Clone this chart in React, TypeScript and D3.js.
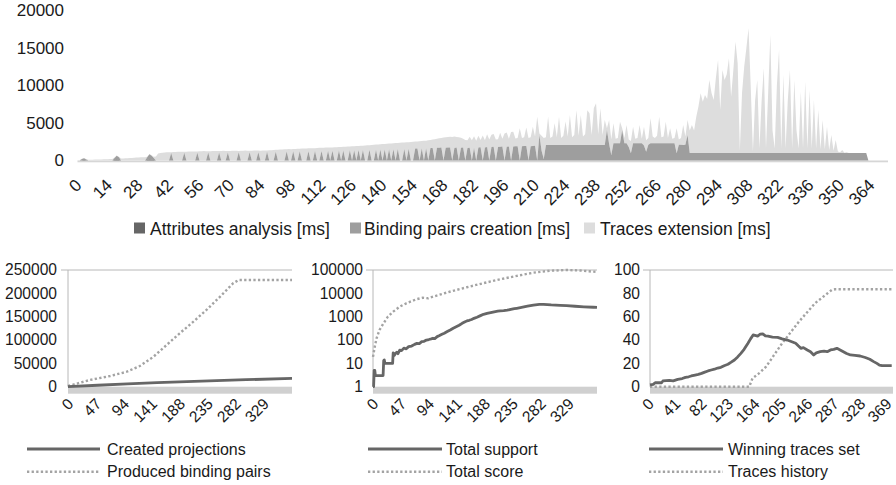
import React from 'react';
import * as d3 from 'd3';

const FONT = "'Liberation Sans', Arial, sans-serif";
const TEXT = '#1a1a1a';

// ---------- Top chart data (stacked areas, one value per iteration 0..372) ----------
const topSeriesNames = ['Attributes analysis [ms]', 'Binding pairs creation [ms]', 'Traces extension [ms]'];

const attributesAnalysis = [
  0,0,40,60,30,0,0,0,0,0,
  0,0,0,0,0,0,0,60,120,80,
  0,0,0,0,0,0,0,0,0,0,
  0,0,80,150,110,60,0,0,0,0,
  0,0,0,0,0,0,0,0,0,0, 0,0,0,0,0,0,0,0,0,0, 0,0,0,0,0,0,0,0,0,0, 0,0,0,0,0,0,0,0,0,0,
  0,0,0,0,0,0,0,0,0,0, 0,0,0,0,0,0,0,0,0,0, 0,0,0,0,0,0,0,0,0,0, 0,0,0,0,0,0,0,0,0,0,
  0,0,0,0,0,0,0,0,0,0, 0,0,0,0,0,0,0,0,0,0, 0,0,0,0,0,0,0,0,0,0, 0,0,0,0,0,0,0,0,0,0,
  0,0,0,0,0,0,0,0,0,0, 0,0,0,0,0,0,0,0,0,0, 0,0,0,0,0,0,0,0,0,0, 0,0,0,0,0,0,0,0,0,0,
  0,0,0,0,0,0,0,0,0,0, 0,0,0,0,0,0,0,0,0,0, 0,0,0,0,0,0,0,0,0,0, 0,0,0,0,0,0,0,0,0,0,
  0,0,0,0,0,0,0,0,0,0, 0,0,0,0,0,0,0,0,0,0, 0,0,0,0,0,0,0,0,0,0, 0,0,0,0,0,0,0,0,0,0,
  0,0,0,0,0,0,0,0,0,0, 0,0,0,0,0,0,0,0,0,0, 0,0,0,0,0,0,0,0,0,0, 0,0,0,0,0,0,0,0,0,0,
  0,0,0,0,0,0,0,0,0,0, 0,0,0,0,0,0,0,0,0,0, 0,0,0,0,0,0,0,0,0,0, 0,0,0,
];

const bindingPairsCreation = [
  0,0,160,240,120,0,0,0,0,0,
  0,0,0,0,0,0,0,290,520,370,
  0,0,0,0,0,0,0,0,0,0,
  0,0,370,680,540,290,0,0,0,0,
  0,0,0,1000,0,0,0,0,0,1050,
  0,0,0,0,0,1050,0,0,0,0,
  1080,0,0,0,0,1080,0,0,0,1080,
  0,0,0,0,1100,0,0,0,0,1100,
  0,0,0,1100,0,0,0,1170,0,0,
  0,1180,0,0,0,0,1200,0,0,1220,
  0,0,1230,0,0,0,1250,0,0,1260,
  0,0,1280,0,0,1300,0,1310,0,0,
  1330,0,1340,0,0,1360,0,1380,0,1400,
  0,1410,0,0,1430,0,0,1450,0,1460,
  0,1480,0,1490,0,1510,0,1520,0,0,
  1550,0,1560,0,0,1590,1610,0,1620,0,
  1640,0,1660,1680,0,1690,1700,1720,0,1700,
  1750,1730,0,1680,1720,0,1700,1720,0,1680,
  1710,0,1700,0,1720,1760,0,1750,1790,0,
  1800,1820,0,1800,1840,1860,0,1850,1880,0,
  1860,1900,1890,0,1900,1920,1940,0,1910,1950,
  1960,0,3400,1300,200,2070,2060,2070,2080,2070,
  2070,2060,2070,2070,2080,2070,2070,2060,2070,2070,
  2070,2080,2070,2070,2060,2070,2070,2070,2080,2070,
  2070,2070,2070,4070,2200,730,2290,2290,2300,2290,
  4070,2300,2290,1800,960,2290,2290,2300,2290,2290,
  2000,1170,2100,2290,2290,2290,2290,2290,2290,2290,
  2290,2290,2290,2290,2290,960,2100,2100,2080,2100,
  3400,1000,1000,1000,1000,1000,1000,1000,1000,1000,
  1000,1000,1000,1000,1000,1000,1000,1000,1000,1000,
  1000,1000,1000,1000,1000,1000,1000,1000,1000,1000,
  1000,1000,1000,1000,1000,1000,1000,1000,1000,1000,
  1000,1000,1000,1000,1000,1000,1000,1000,1000,1000,
  1000,1000,1000,1000,1000,1000,1000,1000,1000,1000,
  1000,1000,1000,1000,1000,1000,1000,1000,1000,1000,
  1000,1000,1000,1000,1000,1000,1000,1000,1000,1000,
  1000,1000,1000,
];

const tracesExtension = [
  50,60,30,30,40,100,110,115,120,130,
  140,150,155,165,175,185,200,50,30,50,
  260,275,290,310,330,350,370,390,410,420,
  430,440,40,30,40,150,520,950,1000,1040,
  1070,1090,1100,110,1130,1150,1160,1180,1170,110,
  1180,1200,1210,1200,1190,150,1220,1250,1270,1250,
  160,1240,1260,1280,1270,180,1270,1290,1280,190,
  1280,1300,1310,1290,180,1290,1300,1320,1310,200,
  1300,1320,1330,220,1310,1320,1330,160,1360,1380,
  1400,240,1430,1460,1470,1490,300,1520,1510,310,
  1550,1560,330,1590,1600,1600,370,1630,1650,390,
  1660,1690,410,1700,1720,420,1740,440,1770,1780,
  460,1810,480,1840,1860,510,1890,520,1920,530,
  1960,560,2000,2030,620,2080,2100,670,2150,710,
  2200,730,2240,770,2280,780,2330,820,2370,2390,
  850,2440,890,2480,2510,930,930,2570,970,2620,
  1000,2700,1090,1110,2850,1210,1260,1290,3060,1400,
  1400,1450,3150,1510,1410,3100,1350,1180,2750,1020,
  1460,2700,1550,2650,1580,990,3350,950,1710,2800,
  1650,1730,2800,1050,1860,1040,3600,1900,1020,3800,
  1990,1050,1110,4300,1100,1180,2460,3000,1190,2550,
  1240,5840,200,2000,2800,1030,3770,930,1130,2890,
  1030,3770,930,1230,3110,1130,4000,1030,1330,4630,
  1230,4000,1130,1430,4630,4220,1330,4930,5560,1430,
  4890,1330,3330,230,3200,2070,2670,610,700,2890,
  230,700,2440,1000,1640,2210,610,700,2440,610,
  2500,1530,900,3330,910,710,1010,3550,810,910,
  2890,710,2000,610,710,3330,700,900,2650,1100,
  2000,3000,3730,3000,4840,6200,7960,6840,7730,7200,
  9730,8000,7070,10000,12400,5730,11070,9730,10500,12630,
  7500,11000,14840,11960,300,8000,11500,14000,16630,8840,
  200,7000,9730,600,7000,11290,600,8000,15730,3000,
  600,9000,13730,600,10400,600,7000,11070,600,9730,
  3000,600,8170,600,9500,600,8400,600,7070,600,
  5730,500,4400,500,3500,400,2400,300,1730,200,
  100,400,50,100,0,0,0,0,0,0,
  0,0,0,0,0,0,0,0,0,0,
  0,0,0,
];

const topYTicks = [0, 5000, 10000, 15000, 20000];
const topXLabels = [0,14,28,42,56,70,84,98,112,126,140,154,168,182,196,210,224,238,252,266,280,294,308,322,336,350,364];

// ---------- Bottom charts data: [iteration, value] points ----------
const createdProjections: [number, number][] = [
  [0,0],[50,3100],[100,6000],[150,8600],[200,10900],[250,13000],[300,15000],[377,17800],
];
const producedBindingPairs: [number, number][] = [
  [0,1500],[37,14400],[71,22900],[99,32100],[121,44400],[144,64300],[166,89400],[188,114400],
  [211,139300],[233,164400],[256,192900],[278,221600],[287,228500],[377,228500],
];
const totalSupport: [number, number][] = [
  [0,1],[1,1],[2,5],[3,5],[4,3],[17,3],[18,13],[19,14],[20,10],[33,10],[34,28],[36,22],[38,27],
  [40,30],[42,26],[45,37],[48,35],[52,45],[56,42],[60,52],[65,55],[70,65],[74,72],[78,70],
  [82,85],[86,88],[90,100],[94,105],[98,112],[101,119],[104,115],[108,140],[112,155],[116,175],
  [120,195],[125,230],[130,270],[135,320],[140,370],[145,430],[150,520],[155,610],[158,655],
  [162,700],[166,760],[170,850],[175,950],[180,1080],[186,1260],[192,1380],[198,1500],[204,1620],
  [210,1720],[214,1760],[220,1800],[226,1900],[232,2050],[238,2200],[242,2290],[250,2500],
  [260,2800],[270,3100],[280,3350],[287,3400],[300,3200],[315,3050],[326,2960],[340,2800],
  [355,2650],[371,2530],[377,2500],
];
const totalScore: [number, number][] = [
  [0,19],[3,52],[6,119],[11,270],[17,487],[25,1000],[34,1640],[45,2690],[56,3730],[73,5580],
  [84,6500],[93,6140],[101,7200],[129,11700],[158,18200],[186,27400],[214,40000],[242,55800],
  [270,77000],[298,93000],[326,100000],[349,95000],[371,85000],[377,83000],
];
const winningTracesSet: [number, number][] = [
  [0,1.5],[5,2],[8,3.4],[18,3.4],[20,4.9],[30,5.5],[36,5],[43,6.3],[50,7],[55,8],[60,8.5],
  [64,9.2],[70,10],[75,10.5],[80,11.4],[85,12.5],[90,13.5],[95,14.3],[100,15],[105,16],
  [110,16.6],[115,18],[121,19.2],[126,21],[131,22.9],[136,25.5],[141,28.6],[146,32],[152,37.2],
  [156,41],[160,44.3],[163,44],[167,43.4],[171,45],[175,45.2],[179,43.5],[183,43.4],[190,42.5],
  [198,42.3],[205,41],[213,40],[220,38.5],[226,37.2],[230,35],[234,32.9],[238,33.5],[244,31.5],
  [249,30],[254,27.2],[258,29],[264,30],[270,30.5],[275,30],[280,31.5],[285,32],[290,32.9],
  [295,31.5],[300,30],[305,28.5],[311,27.2],[318,26.8],[326,26.3],[334,25],[341,23.5],
  [347,21.5],[352,20],[356,18.5],[360,18],[375,18],
];
const tracesHistory: [number, number][] = [
  [0,0],[154,0],[159,7.2],[169,11.4],[180,17.1],[205,37.2],[231,55.7],[256,71.5],[282,82.9],
  [287,83.5],[375,83.5],
];

const chart1YTicks = [0, 50000, 100000, 150000, 200000, 250000];
const chart2YTicks = [1, 10, 100, 1000, 10000, 100000];
const chart3YTicks = [0, 20, 40, 60, 80, 100];
const chart12XLabels = [0, 47, 94, 141, 188, 235, 282, 329];
const chart3XLabels = [0, 41, 82, 123, 164, 205, 246, 287, 328, 369];

const legend1 = ['Created projections', 'Produced binding pairs'];
const legend2 = ['Total support', 'Total score'];
const legend3 = ['Winning traces set', 'Traces history'];

const topColors = ['#666666', '#9e9e9e', '#dddddd'];
const SOLID = '#666666';
const DOTTED = '#a3a3a3';

function TopChart() {
  const N = tracesExtension.length;
  const x = d3.scaleLinear().domain([0, N - 1]).range([77.5, 888]);
  const y = d3.scaleLinear().domain([0, 20000]).range([160.5, 10.5]);
  const rows = tracesExtension.map((t, i) => ({
    a: attributesAnalysis[i] || 0,
    b: bindingPairsCreation[i] || 0,
    t,
  }));
  const stack = d3.stack<any>().keys(['a', 'b', 't'])(rows);
  const area = d3.area<any>()
    .x((_d, i) => x(i))
    .y0((d) => y(d[0]))
    .y1((d) => y(d[1]));
  const legendX = [[134, 150], [350, 364], [584, 600]];
  return (
    <g>
      <rect x={77.5} y={160.5} width={888 - 77.5} height={1.8} fill="#d6d6d6" />
      {stack.slice().reverse().map((s, k) => {
        const idx = 2 - k;
        return <path key={idx} d={area(s) || ''} fill={topColors[idx]} />;
      })}
      {topYTicks.map((v) => (
        <text key={v} x={64} y={y(v)} dy="0.35em" textAnchor="end" fontSize={17} fill={TEXT} fontFamily={FONT}>
          {v}
        </text>
      ))}
      {topXLabels.map((v) => (
        <text
          key={v}
          transform={`translate(${x(v) + 1},${182}) rotate(-45)`}
          dy="0.35em"
          textAnchor="end"
          fontSize={17}
          fill={TEXT}
          fontFamily={FONT}
        >
          {v}
        </text>
      ))}
      {topSeriesNames.map((name, i) => (
        <g key={name}>
          <rect x={legendX[i][0]} y={222.5} width={11} height={11} fill={topColors[i]} />
          <text x={legendX[i][1]} y={228.5} dy="0.35em" fontSize={17.5} fill={TEXT} fontFamily={FONT}>
            {name}
          </text>
        </g>
      ))}
    </g>
  );
}

type LineChartProps = {
  left: number;
  right: number;
  labelRight: number;
  xMax: number;
  log?: boolean;
  yTicks: number[];
  xLabels: number[];
  solid: [number, number][];
  dotted: [number, number][];
  legend: string[];
  legendLineX: [number, number];
  legendTextX: number;
  labelDx: number;
};

function LineChart(p: LineChartProps) {
  const top = 270;
  const bottom = 386.7;
  const x = d3.scaleLinear().domain([0, p.xMax]).range([p.left, p.right]);
  const yMin = p.yTicks[0];
  const yMax = p.yTicks[p.yTicks.length - 1];
  const y = p.log
    ? d3.scaleLog().domain([yMin, yMax]).range([bottom, top])
    : d3.scaleLinear().domain([yMin, yMax]).range([bottom, top]);
  const line = d3.line<[number, number]>()
    .x((d) => x(d[0]))
    .y((d) => y(d[1]));
  return (
    <g>
      <rect x={p.left} y={bottom} width={p.right - p.left} height={7} fill="#d0d0d0" />
      <line x1={p.left - 7} x2={p.right} y1={top} y2={top} stroke="#b8b8b8" strokeWidth={1} />
      <line x1={p.left} x2={p.left} y1={top} y2={bottom} stroke="#b8b8b8" strokeWidth={1} />
      <path d={line(p.dotted) || ''} fill="none" stroke={DOTTED} strokeWidth={2.4} strokeDasharray="2.3 2.3" />
      <path d={line(p.solid) || ''} fill="none" stroke={SOLID} strokeWidth={2.8} strokeLinejoin="round" />
      {p.yTicks.map((v) => (
        <text key={v} x={p.labelRight} y={y(v)} dy="0.35em" textAnchor="end" fontSize={15.6} fill={TEXT} fontFamily={FONT}>
          {v}
        </text>
      ))}
      {p.xLabels.map((v) => (
        <text
          key={v}
          transform={`translate(${x(v) + p.labelDx},${401}) rotate(-45)`}
          dy="0.35em"
          textAnchor="end"
          fontSize={15.6}
          fill={TEXT}
          fontFamily={FONT}
        >
          {v}
        </text>
      ))}
      <line x1={p.legendLineX[0]} x2={p.legendLineX[1]} y1={449} y2={449} stroke={SOLID} strokeWidth={2.8} />
      <line x1={p.legendLineX[0]} x2={p.legendLineX[1]} y1={471.7} y2={471.7} stroke={DOTTED} strokeWidth={2.4} strokeDasharray="2.3 2.3" />
      <text x={p.legendTextX} y={449} dy="0.35em" fontSize={16} fill={TEXT} fontFamily={FONT}>{p.legend[0]}</text>
      <text x={p.legendTextX} y={471.7} dy="0.35em" fontSize={16} fill={TEXT} fontFamily={FONT}>{p.legend[1]}</text>
    </g>
  );
}

export default function App() {
  return (
    <svg
      width={896}
      height={485}
      viewBox="0 0 896 485"
      style={{ position: 'absolute', left: 0, top: 0, background: '#ffffff' }}
    >
      <rect x={0} y={0} width={896} height={485} fill="#ffffff" />
      <TopChart />
      <LineChart
        left={68} right={292} labelRight={57} xMax={377}
        yTicks={chart1YTicks} xLabels={chart12XLabels}
        solid={createdProjections} dotted={producedBindingPairs}
        legend={legend1} legendLineX={[27, 100]} legendTextX={107} labelDx={2.5}
      />
      <LineChart
        left={373} right={597} labelRight={363} xMax={377} log
        yTicks={chart2YTicks} xLabels={chart12XLabels}
        solid={totalSupport} dotted={totalScore}
        legend={legend2} legendLineX={[368, 442]} legendTextX={446} labelDx={2.5}
      />
      <LineChart
        left={650} right={893} labelRight={640} xMax={377}
        yTicks={chart3YTicks} xLabels={chart3XLabels}
        solid={winningTracesSet} dotted={tracesHistory}
        legend={legend3} legendLineX={[649, 723]} legendTextX={728} labelDx={1}
      />
    </svg>
  );
}
